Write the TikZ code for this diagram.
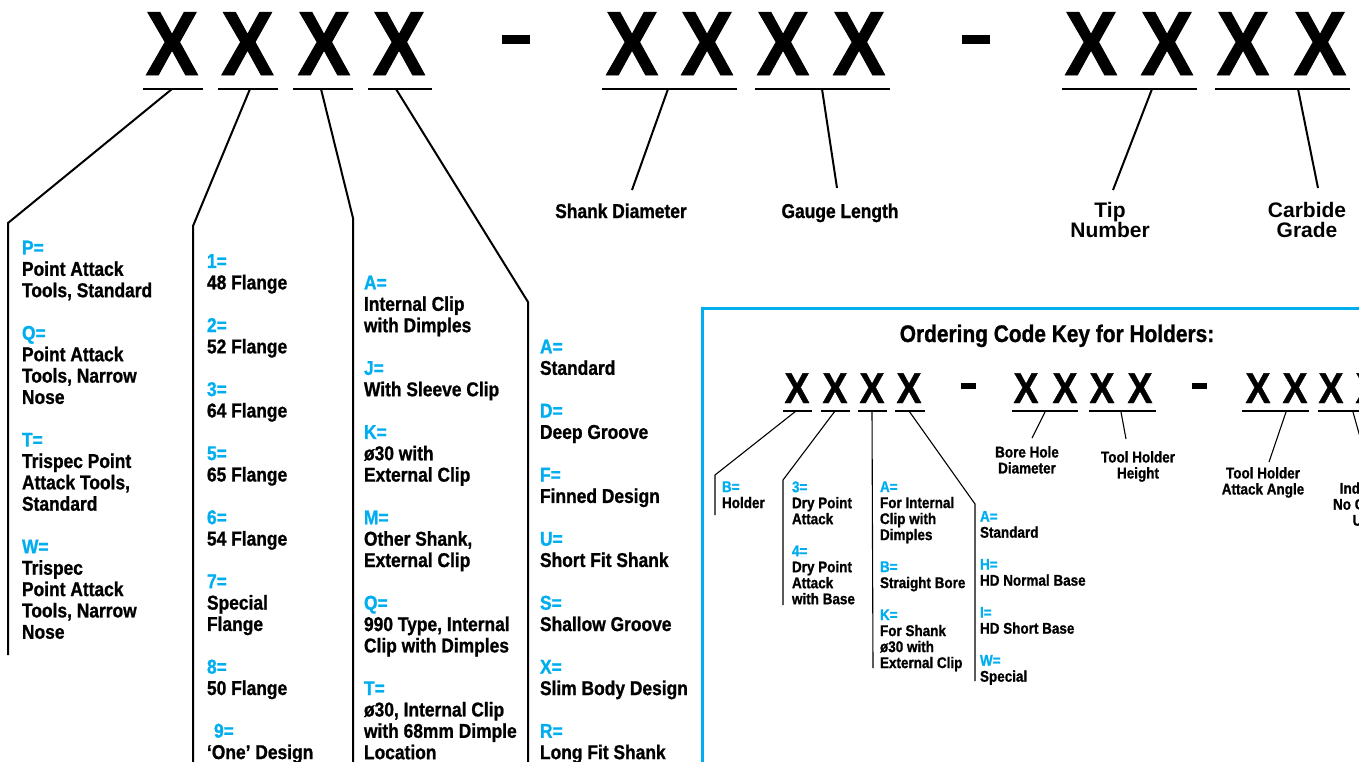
\documentclass[tikz,border=0pt]{standalone}
\usepackage{fontspec}
\setmainfont{Liberation Sans}
\newfontfamily\narrowfont[FakeStretch=0.87, FakeBold=1]{Liberation Sans}
\usepackage{tikz}
\definecolor{keyblue}{HTML}{00AEEF}
\newcommand{\lblc}[1]{\textcolor{keyblue}{#1}}
\tikzset{
  every node/.style={inner sep=0pt, outer sep=0pt},
  bigx/.style={font=\narrowfont\bfseries\fontsize{91}{91}\selectfont, anchor=base},
  smallx/.style={font=\narrowfont\bfseries\fontsize{43}{43}\selectfont, anchor=base},
  codelist/.style={font=\narrowfont\bfseries\fontsize{20}{21.35}\selectfont, align=left, anchor=north west},
  smalllist/.style={font=\narrowfont\bfseries\fontsize{15.5}{16}\selectfont, align=left, anchor=north west},
  caption/.style={font=\narrowfont\bfseries\fontsize{20}{21.35}\selectfont, anchor=base},
  widecaption/.style={font=\bfseries\fontsize{21}{20}\selectfont, align=center, anchor=north},
  smallcaption/.style={font=\narrowfont\bfseries\fontsize{15.5}{16}\selectfont, align=center, anchor=north},
  bar/.style={fill=black, minimum width=28pt, minimum height=9pt},
  smallbar/.style={fill=black, minimum width=15pt, minimum height=6pt},
  uline/.style={line width=2.2pt},
  thinuline/.style={line width=1.2pt},
  lead/.style={line width=2pt},
  thinlead/.style={line width=1.1pt}}

\begin{document}
\begin{tikzpicture}[x=1pt,y=-1pt]
\useasboundingbox (0,0) rectangle (1359,761);
\clip (0,0) rectangle (1359,761);
% big code
\node[bigx] (x1) at (172,75) {X};
\node[bigx] (x2) at (247.5,75) {X};
\node[bigx] (x3) at (324,75) {X};
\node[bigx] (x4) at (399,75) {X};
\node[bar] (d1) at (516,39.5) {};
\node[bigx] (x5) at (632,75) {X};
\node[bigx] (x6) at (707,75) {X};
\node[bigx] (x7) at (783,75) {X};
\node[bigx] (x8) at (859,75) {X};
\node[bar] (d2) at (976,39.5) {};
\node[bigx] (x9) at (1091,75) {X};
\node[bigx] (x10) at (1167,75) {X};
\node[bigx] (x11) at (1243,75) {X};
\node[bigx] (x12) at (1320,75) {X};
\draw[uline] (143,89) -- (203,89);
\draw[uline] (218,89) -- (278,89);
\draw[uline] (293,89) -- (353,89);
\draw[uline] (368,89) -- (432,89);
\draw[uline] (602,89) -- (737,89);
\draw[uline] (755,89) -- (890,89);
\draw[uline] (1062,89) -- (1197,89);
\draw[uline] (1215,89) -- (1350,89);

% leaders
\coordinate (u1) at (172,89);
\coordinate (k1) at (8,223);
\coordinate (e1) at (8,655);
\coordinate (u2) at (250,89);
\coordinate (k2) at (193,226);
\coordinate (e2) at (193,770);
\coordinate (u3) at (321,89);
\coordinate (k3) at (353,218);
\coordinate (e3) at (353,770);
\coordinate (u4) at (396,89);
\coordinate (k4) at (528,302);
\coordinate (e4) at (528,770);
\coordinate (u5) at (668,89);
\coordinate (l5) at (632,190);
\coordinate (u6) at (822,89);
\coordinate (l6) at (837,188);
\coordinate (u7) at (1152,89);
\coordinate (l7) at (1113,190);
\coordinate (u8) at (1298,89);
\coordinate (l8) at (1318,188);
\draw[lead] (u1) -- (k1) -- (e1);
\draw[lead] (u2) -- (k2) -- (e2);
\draw[lead] (u3) -- (k3) -- (e3);
\draw[lead] (u4) -- (k4) -- (e4);
\draw[lead] (u5) -- (l5);
\draw[lead] (u6) -- (l6);
\draw[lead] (u7) -- (l7);
\draw[lead] (u8) -- (l8);

\node[caption] (shank) at (621,218) {Shank Diameter};
\node[caption] (gauge) at (840,218) {Gauge Length};
\node[widecaption] (tip) at (1110,202.7) {Tip\\Number};
\node[widecaption] (grade) at (1307,202.7) {Carbide\\Grade};

% code lists
\node[codelist] (colP) at (22,240.7) {\lblc{P=}\\Point Attack\\Tools, Standard\\[21.35pt]
  \lblc{Q=}\\Point Attack\\Tools, Narrow\\Nose\\[21.35pt]
  \lblc{T=}\\Trispec Point\\Attack Tools,\\Standard\\[21.35pt]
  \lblc{W=}\\Trispec\\Point Attack\\Tools, Narrow\\Nose};
\node[codelist] (colF) at (207,254.2) {\lblc{1=}\\48 Flange\\[21.35pt]
  \lblc{2=}\\52 Flange\\[21.35pt]
  \lblc{3=}\\64 Flange\\[21.35pt]
  \lblc{5=}\\65 Flange\\[21.35pt]
  \lblc{6=}\\54 Flange\\[21.35pt]
  \lblc{7=}\\Special\\Flange\\[21.35pt]
  \lblc{8=}\\50 Flange\\[21.35pt]
  \hspace*{7pt}\lblc{9=}\\‘One’ Design};
\node[codelist] (colC) at (364,275.7) {\lblc{A=}\\Internal Clip\\with Dimples\\[21.35pt]
  \lblc{J=}\\With Sleeve Clip\\[21.35pt]
  \lblc{K=}\\ø30 with\\External Clip\\[21.35pt]
  \lblc{M=}\\Other Shank,\\External Clip\\[21.35pt]
  \lblc{Q=}\\990 Type, Internal\\Clip with Dimples\\[21.35pt]
  \lblc{T=}\\ø30, Internal Clip\\with 68mm Dimple\\Location};
\node[codelist] (colS) at (540,339.7) {\lblc{A=}\\Standard\\[21.35pt]
  \lblc{D=}\\Deep Groove\\[21.35pt]
  \lblc{F=}\\Finned Design\\[21.35pt]
  \lblc{U=}\\Short Fit Shank\\[21.35pt]
  \lblc{S=}\\Shallow Groove\\[21.35pt]
  \lblc{X=}\\Slim Body Design\\[21.35pt]
  \lblc{R=}\\Long Fit Shank};

% holders key
\draw[keyblue, line width=3pt] (1400,308) -- (702.5,308) -- (702.5,800);
\node[caption, font=\narrowfont\bfseries\fontsize{24}{24}\selectfont] (title) at (1057,342) {Ordering Code Key for Holders:};
\node[smallx] (h1) at (797,403) {X};
\node[smallx] (h2) at (835,403) {X};
\node[smallx] (h3) at (872,403) {X};
\node[smallx] (h4) at (909,403) {X};
\node[smallbar] (hd1) at (968.5,386) {};
\node[smallx] (h5) at (1026,403) {X};
\node[smallx] (h6) at (1065,403) {X};
\node[smallx] (h7) at (1102,403) {X};
\node[smallx] (h8) at (1140,403) {X};
\node[smallbar] (hd2) at (1199,386) {};
\node[smallx] (h9) at (1258,403) {X};
\node[smallx] (h10) at (1295,403) {X};
\node[smallx] (h11) at (1331,403) {X};
\node[smallx] (h12) at (1368,403) {X};
\draw[thinuline] (783,411) -- (812,411);
\draw[thinuline] (821,411) -- (850,411);
\draw[thinuline] (858,411) -- (887,411);
\draw[thinuline] (895,411) -- (925,411);
\draw[thinuline] (1012,411) -- (1078,411);
\draw[thinuline] (1089,411) -- (1156,411);
\draw[thinuline] (1242,411) -- (1309,411);
\draw[thinuline] (1318,411) -- (1385,411);

\coordinate (hu1) at (796,411);
\coordinate (hk1) at (715,475);
\coordinate (he1) at (715,515);
\coordinate (hu2) at (835,411);
\coordinate (hk2) at (783,480);
\coordinate (he2) at (783,605);
\coordinate (hu3) at (872,411);
\coordinate (he3) at (873,668);
\coordinate (hu4) at (909,411);
\coordinate (hk4) at (975,504);
\coordinate (he4) at (975,681);
\coordinate (hu5) at (1045,412);
\coordinate (hl5) at (1032,438);
\coordinate (hu6) at (1121,412);
\coordinate (hl6) at (1126,439);
\coordinate (hu7) at (1286,412);
\coordinate (hl7) at (1269,462);
\coordinate (hu8) at (1353,412);
\coordinate (hl8) at (1367,462);
\draw[thinlead] (hu1) -- (hk1) -- (he1);
\draw[thinlead] (hu2) -- (hk2) -- (he2);
\draw[thinlead] (hu3) -- (he3);
\draw[thinlead] (hu4) -- (hk4) -- (he4);
\draw[thinlead] (hu5) -- (hl5);
\draw[thinlead] (hu6) -- (hl6);
\draw[thinlead] (hu7) -- (hl7);
\draw[thinlead] (hu8) -- (hl8);

\node[smallcaption] (bore) at (1027,446.2) {Bore Hole\\Diameter};
\node[smallcaption] (height) at (1138,451.2) {Tool Holder\\Height};
\node[smallcaption] (angle) at (1263,467.2) {Tool Holder\\Attack Angle};
\node[smallcaption] (coolant) at (1369,467) {‘X’\\Indicates\\No Coolant\\Used};

\node[smalllist] (hB) at (722,481.4) {\lblc{B=}\\Holder};
\node[smalllist] (hT) at (792,481.4) {\lblc{3=}\\Dry Point\\Attack\\[16pt]
  \lblc{4=}\\Dry Point\\Attack\\with Base};
\node[smalllist] (hA) at (880,481.4) {\lblc{A=}\\For Internal\\Clip with\\Dimples\\[16pt]
  \lblc{B=}\\Straight Bore\\[16pt]
  \lblc{K=}\\For Shank\\ø30 with\\External Clip};
\node[smalllist] (hS) at (980,511) {\lblc{A=}\\Standard\\[16pt]
  \lblc{H=}\\HD Normal Base\\[16pt]
  \lblc{I=}\\HD Short Base\\[16pt]
  \lblc{W=}\\Special};
\end{tikzpicture}
\end{document}
